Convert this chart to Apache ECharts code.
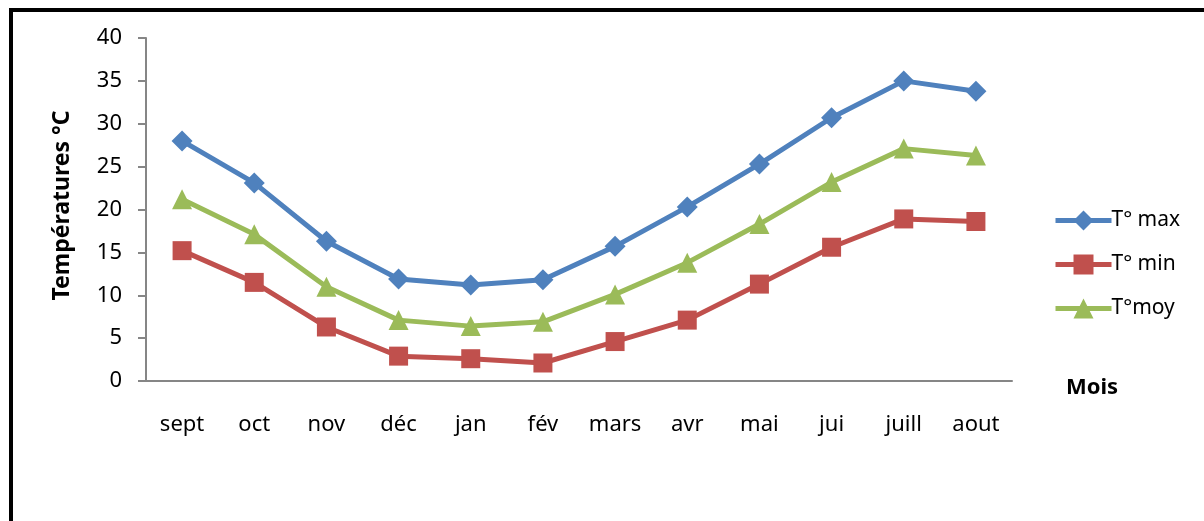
<!DOCTYPE html>
<html>
<head>
<meta charset="utf-8">
<script src="https://cdn.jsdelivr.net/npm/echarts@6/dist/echarts.min.js"></script>
<style>
  html, body { margin: 0; padding: 0; background: #fff; }
  #main { width: 1204px; height: 521px; }
</style>
</head>
<body>
<div id="main"></div>
<script>
// mois (axe des x)
var months = ['sept', 'oct', 'nov', 'déc', 'jan', 'fév', 'mars', 'avr', 'mai', 'jui', 'juill', 'aout'];
// températures
var tMax = [28.0, 23.1, 16.3, 11.9, 11.2, 11.8, 15.7, 20.3, 25.3, 30.7, 35.0, 33.8];
var tMin = [15.2, 11.5, 6.3, 2.9, 2.6, 2.1, 4.6, 7.1, 11.3, 15.6, 18.9, 18.6];
var tMoy = [21.2, 17.1, 11.0, 7.1, 6.4, 6.9, 10.1, 13.8, 18.3, 23.2, 27.1, 26.3];

var font = '"Noto Sans", "Open Sans", sans-serif';
var axisGray = '#868686';

var myChart = echarts.init(document.getElementById('main'));
var option = {
  animation: false,
  backgroundColor: '#fff',
  textStyle: { fontFamily: font },
  grid: { left: 146, right: 192, top: 38, bottom: 140 },
  // cadre noir
  graphic: [
    { type: 'line', shape: { x1: 9, y1: 10, x2: 1204, y2: 10 }, style: { stroke: '#000', lineWidth: 4 } },
    { type: 'line', shape: { x1: 11, y1: 8, x2: 11, y2: 521 }, style: { stroke: '#000', lineWidth: 4 } },
    { type: 'text', left: 1066, top: 377, style: { text: 'Mois', font: 'bold 22px ' + font, fill: '#000' } }
  ],
  legend: {
    orient: 'vertical',
    left: 1048,
    top: 205,
    itemWidth: 56,
    itemHeight: 25,
    itemGap: 23,
    lineStyle: { width: 5 },
    textStyle: { fontSize: 21, color: '#000', fontFamily: font, padding: [0, 0, 0, -5] },
    data: ['T° max', 'T° min', 'T°moy']
  },
  xAxis: {
    type: 'category',
    boundaryGap: true,
    data: months,
    axisLine: { lineStyle: { color: axisGray, width: 2 } },
    axisTick: { length: 8, lineStyle: { color: axisGray, width: 2 } },
    axisLabel: { fontSize: 22, color: '#000', margin: 33, fontFamily: font }
  },
  yAxis: {
    type: 'value',
    min: 0,
    max: 40,
    interval: 5,
    name: 'Températures °C',
    nameLocation: 'middle',
    nameRotate: 90,
    nameGap: 72,
    nameTextStyle: { fontSize: 23, fontWeight: 'bold', color: '#000', fontFamily: font, padding: [0, 0, 0, 8] },
    splitLine: { show: false },
    axisLine: { show: true, lineStyle: { color: axisGray, width: 2 } },
    axisTick: { show: true, length: 8, lineStyle: { color: axisGray, width: 2 } },
    axisLabel: { fontSize: 22, color: '#000', margin: 24, fontFamily: font }
  },
  series: [
    {
      name: 'T° max', type: 'line', data: tMax,
      symbol: 'diamond', symbolSize: 21,
      lineStyle: { color: '#4F81BD', width: 5 },
      itemStyle: { color: '#4F81BD' }
    },
    {
      name: 'T° min', type: 'line', data: tMin,
      symbol: 'rect', symbolSize: 19,
      lineStyle: { color: '#C0504D', width: 5 },
      itemStyle: { color: '#C0504D' }
    },
    {
      name: 'T°moy', type: 'line', data: tMoy,
      symbol: 'triangle', symbolSize: 20,
      lineStyle: { color: '#9BBB59', width: 5 },
      itemStyle: { color: '#9BBB59' }
    }
  ]
};
myChart.setOption(option);
</script>
</body>
</html>
